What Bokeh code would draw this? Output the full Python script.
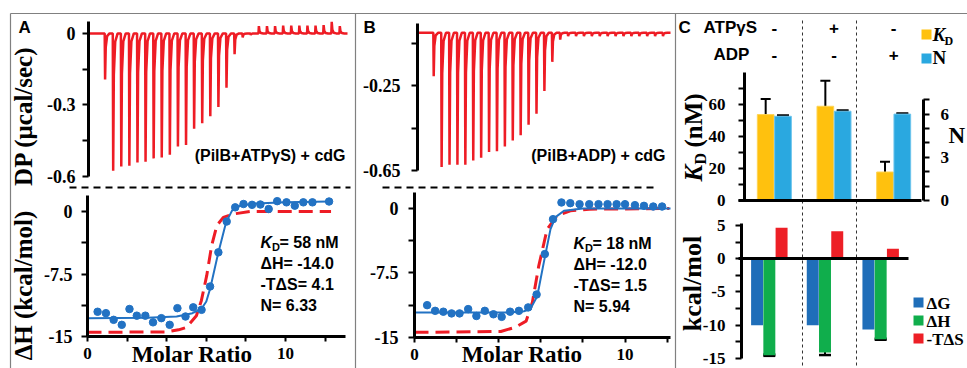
import math
from bokeh.plotting import figure
from bokeh.models import (Range1d, LinearAxis, FixedTicker, CustomJSTickFormatter, Label,
                          Whisker, TeeHead, ColumnDataSource, BoxAnnotation)
from bokeh.embed import file_html
from bokeh.resources import INLINE

W, H = 967, 368

# ---------------------------------------------------------------- data
injection_time = [2, 3, 4, 5, 6, 7, 8, 9, 10, 11, 12, 13, 14, 15, 16,
                  17, 18, 19, 20, 21, 22, 23, 24, 25, 26, 27, 28, 29, 30, 31]
dp_atpgs = [-0.193, -0.576, -0.558, -0.555, -0.541, -0.538, -0.524, -0.520,
            -0.509, -0.474, -0.468, -0.400, -0.377, -0.347, -0.309, -0.228,
            -0.087, -0.017, -0.006, 0.031, 0.031, 0.031, 0.033, 0.033, 0.033,
            0.033, 0.033, 0.035, 0.049, 0.031]
dp_adp = [-0.205, -0.634, -0.623, -0.623, -0.623, -0.603, -0.590, -0.563,
          -0.559, -0.537, -0.508, -0.484, -0.434, -0.382, -0.275, -0.137,
          -0.032, -0.016, -0.016, -0.016, -0.016, -0.016, -0.016, -0.016,
          -0.016, -0.016, -0.016, -0.016, -0.016, -0.016]

ratio_atpgs = [0.51, 0.93, 1.32, 1.73, 2.12, 2.49, 2.92, 3.31, 3.73, 4.15, 4.54, 4.95,
               5.34, 5.76, 6.19, 6.61, 7.03, 7.46, 7.88, 8.31, 8.73, 9.15, 9.58, 10.05,
               10.47, 10.9, 11.36, 12.2]
heat_atpgs = [-12.03, -12.2, -13.0, -13.6, -11.7, -12.5, -12.5, -13.3, -12.8, -13.6, -11.6,
              -12.6, -11.5, -11.8, -9.0, -4.9, -1.2, 0.5, 0.9, 0.8, 0.84, 0.3, 1.24, 1.1,
              0.7, 1.1, 1.1, 1.2]
fit_ratio_atpgs = [0, 3.0, 4.5, 5.3, 5.75, 6.0, 6.2, 6.6, 7.0, 7.3, 7.7, 8.5, 10.0, 12.2]
fit_heat_atpgs = [-12.8, -12.75, -12.6, -12.2, -11.7, -10.8, -9.2, -5.0, -1.3, 0.1, 0.7,
                  0.95, 1.1, 1.2]
ref_ratio_atpgs = [0, 4.0, 4.6, 5.0, 5.5, 5.75, 6.02, 6.27, 6.53, 6.86, 7.37, 8.2, 12.3]
ref_heat_atpgs = [-14.5, -14.45, -14.2, -13.9, -12.5, -10.7, -7.7, -4.1, -1.7, -0.7, -0.3,
                  0, 0]

ratio_adp = [0.6, 0.98, 1.37, 1.76, 2.14, 2.55, 2.94, 3.34, 3.75, 4.14, 4.54, 4.96, 5.40,
             5.80, 6.19, 6.58, 6.98, 7.40, 7.84, 8.3, 8.74, 9.17, 9.6, 10.0, 10.47, 10.9,
             11.34, 11.76]
heat_adp = [-11.24, -11.9, -12.0, -12.2, -12.2, -11.7, -12.5, -11.9, -12.3, -12.6, -12.0,
            -11.9, -11.5, -10.0, -5.3, -1.24, 0.7, 0.62, 0.5, 0.5, 0.5, 0.5, 0.5, 0.5,
            0.39, 0.31, 0.23, 0.23]
fit_ratio_adp = [0, 4.5, 5.2, 5.5, 5.83, 6.14, 6.46, 6.7, 7.1, 8.0, 12.16]
fit_heat_adp = [-12.1, -12.1, -11.95, -11.7, -10.2, -6.3, -2.4, -1.0, -0.27, 0, 0]
ref_ratio_adp = [0, 4.1, 4.8, 5.3, 5.6, 5.9, 6.3, 6.77, 7.4, 8.3, 12.1]
ref_heat_adp = [-14.4, -14.3, -13.8, -13.1, -10.9, -6.7, -2.4, -0.85, -0.27, -0.08, 0]

atpgs_sign = ["-", "+", "-"]
adp_sign = ["-", "-", "+"]
group_pos = [0, 1, 2]
kd_nM = [53.7, 58.9, 17.8]
kd_err = [9.7, 16.0, 6.4]
n_sites = [5.85, 6.2, 6.0]
n_err = [0.05, 0.05, 0.05]
dG = [-10.0, -10.0, -10.65]
dH = [-14.5, -14.1, -12.1]
dH_err = [0.1, 0.38, 0.08]
mTdS = [4.65, 4.15, 1.5]

# ---------------------------------------------------------------- style
RED = "#EE1C25"
BLUE = "#2272C3"
KD_COL = "#FFC10E"
N_COL = "#2AA8E0"
G_COL = "#1F6EB9"
H_COL = "#10AE4C"
S_COL = "#ED1F26"
GREY = "#808080"
SANS = "Liberation Sans"
SERIF = "Liberation Serif"
ROT = math.pi / 2
MID = 0.33  # offset from alphabetic baseline to the text middle, in em

# one canvas; default ranges are page pixels (y downwards), each panel gets its own ranges
p = figure(width=W, height=H, x_range=Range1d(0, W), y_range=Range1d(H, 0),
           x_axis_type=None, y_axis_type=None, output_backend="svg",
           toolbar_location=None, min_border=0, min_border_left=0, min_border_right=0,
           min_border_top=0, min_border_bottom=0, outline_line_color=None,
           background_fill_color="white", border_fill_color="white")
p.grid.visible = False

xr_extra, yr_extra = {}, {}


def panel(name, frame, xr, yr, extra_y=None):
    fx0, fy0, fx1, fy1 = frame
    kx = (xr[1] - xr[0]) / (fx1 - fx0)
    xr_extra[name] = Range1d(xr[0] - fx0 * kx, xr[0] + (W - fx0) * kx)
    ky = (yr[1] - yr[0]) / (fy1 - fy0)
    yr_extra[name] = Range1d(yr[0] + (fy1 - H) * ky, yr[0] + fy1 * ky)
    if extra_y:
        n2, yr2 = extra_y
        ky2 = (yr2[1] - yr2[0]) / (fy1 - fy0)
        yr_extra[n2] = Range1d(yr2[0] + (fy1 - H) * ky2, yr2[0] + fy1 * ky2)


def style_axis(ax, ticks, minor, size, standoff, out=6):
    ax.ticker = FixedTicker(ticks=ticks, minor_ticks=minor)
    ax.formatter = CustomJSTickFormatter(code="return tick.toString();")
    ax.axis_line_width = 3
    ax.axis_line_color = "black"
    ax.major_tick_line_width = 2
    ax.minor_tick_line_width = 2
    ax.major_tick_out = out
    ax.major_tick_in = 0
    ax.minor_tick_out = out
    ax.minor_tick_in = 0
    ax.major_label_text_font = SERIF
    ax.major_label_text_font_size = f"{size}px"
    ax.major_label_text_font_style = "bold"
    ax.major_label_text_color = "black"
    ax.major_label_standoff = standoff


def y_axis(name, xname, at, bounds, ticks, minor, size, standoff, side="left"):
    ax = LinearAxis(y_range_name=name, x_range_name=xname, fixed_location=at, bounds=bounds)
    style_axis(ax, ticks, minor, size, standoff)
    p.add_layout(ax, side)
    return ax


def x_axis(name, yname, at, bounds, ticks, minor, size, standoff, out=5):
    ax = LinearAxis(x_range_name=name, y_range_name=yname, fixed_location=at, bounds=bounds)
    style_axis(ax, ticks, minor, size, standoff, out=out)
    p.add_layout(ax, "below")
    return ax


def text(px, py, s, size, font=SANS, style="bold", align="left", angle=0.0,
         x_range_name="default"):
    # (px, py) is the start / centre of the alphabetic baseline
    if angle == 0.0:
        py = py - MID * size
    else:
        px = px - MID * size
    p.add_layout(Label(x=px, y=py, text=s, text_font=font, text_font_size=f"{size}px",
                       text_font_style=style, text_align=align, x_range_name=x_range_name,
                       text_baseline="middle", angle=angle, text_color="black"))


def seg(x0, y0, x1, y1, color, width, dash="solid"):
    p.segment(x0=[x0], y0=[y0], x1=[x1], y1=[y1], line_color=color,
              line_width=width, line_dash=dash)


def box(x0, y0, x1, y1, color):
    p.add_layout(BoxAnnotation(left=x0, right=x1, top=y0, bottom=y1, fill_color=color,
                               fill_alpha=1.0, line_color=None))


def dp_trace(times, peaks, t_end):
    xs, ys = [0.0], [0.0]
    for t, d in zip(times, peaks):
        xs += [t, t + 0.05, t + 0.13, t + 0.3, t + 0.6]
        ys += [0.0, d, 0.3 * d, 0.06 * d, 0.0]
    xs.append(t_end)
    ys.append(0.0)
    return xs, ys


panel("At", (88, 21, 347, 176), (0, 32), (-0.6, 0.05))
panel("Ab", (87, 195, 345, 336), (0, 13.03), (-15, 1.92))
panel("Bt", (417, 23, 670, 170), (0, 32), (-0.65, 0.044))
panel("Bb", (414, 192, 670, 337), (0, 12.16), (-15, 1.86))
panel("Ct", (744, 72, 923, 200), (-0.5, 2.5), (0, 80), extra_y=("CtN", (0, 8.89)))
panel("Cb", (741, 223, 908, 358), (-0.5, 2.5), (-15, 5.3))
p.extra_x_ranges = xr_extra
p.extra_y_ranges = yr_extra

# ---------------------------------------------------------------- frames / separators
seg(10, 13, W, 13, GREY, 1.2)
seg(10, 13, 10, H, GREY, 1.2)
seg(355, 13, 355, H, GREY, 1.2)
seg(675, 13, 675, H, GREY, 1.2)
seg(69, 187, 350, 187, "black", 2, "7 5")
seg(382, 187, 658, 187, "black", 2, "7 5")
seg(802, 20, 802, H, "#333333", 1, "3 3")
seg(856, 20, 856, H, "#333333", 1, "3 3")

# ---------------------------------------------------------------- panel A
xs, ys = dp_trace(injection_time, dp_atpgs, 32)
p.line(xs, ys, line_color=RED, line_width=2.5, x_range_name="At", y_range_name="At")
y_axis("At", "At", 0, (-0.6, 0.05), [0, -0.3, -0.6], [-0.15, -0.45], 18, 7)
text(18, 33, "A", 17)
text(31, 115.5, "DP (μcal/sec)", 25, SERIF, align="center", angle=ROT)
text(345, 160, "(PilB+ATPγS) + cdG", 16, align="right")

p.line(ref_ratio_atpgs, ref_heat_atpgs, line_color=RED, line_width=3, line_dash="14 7",
       x_range_name="Ab", y_range_name="Ab")
p.line(fit_ratio_atpgs, fit_heat_atpgs, line_color=BLUE, line_width=2,
       x_range_name="Ab", y_range_name="Ab")
p.scatter(ratio_atpgs, heat_atpgs, size=7.5, fill_color=BLUE, line_color=BLUE,
          x_range_name="Ab", y_range_name="Ab")
y_axis("Ab", "Ab", 0, (-15, 1.92), [0, -7.5, -15], [-3.75, -11.25], 18, 9)
x_axis("Ab", "Ab", -15, (0, 13.03), [0, 10], [2, 4, 6, 8, 12], 17, 6)
text(31, 285, "ΔH (kcal/mol)", 25, SERIF, align="center", angle=ROT)
text(260, 247, "K", 16, style="bold italic")
text(271.5, 250, "D", 11)
text(279, 247, "= 58 nM", 16)
text(260, 268, "ΔH= -14.0", 16)
text(260, 289, "-TΔS= 4.1", 16)
text(260, 310, "N= 6.33", 16)
text(191.5, 362, "Molar Ratio", 23, SERIF, align="center")

# ---------------------------------------------------------------- panel B
xs, ys = dp_trace(injection_time, dp_adp, 32)
p.line(xs, ys, line_color=RED, line_width=2.5, x_range_name="Bt", y_range_name="Bt")
y_axis("Bt", "Bt", 0, (-0.65, 0.044), [-0.25, -0.65], [-0.05, -0.45], 18, 11)
text(363, 33, "B", 17)
text(665, 160, "(PilB+ADP) + cdG", 16, align="right")

p.line(ref_ratio_adp, ref_heat_adp, line_color=RED, line_width=3, line_dash="14 7",
       x_range_name="Bb", y_range_name="Bb")
p.line(fit_ratio_adp, fit_heat_adp, line_color=BLUE, line_width=2,
       x_range_name="Bb", y_range_name="Bb")
p.scatter(ratio_adp, heat_adp, size=7.5, fill_color=BLUE, line_color=BLUE,
          x_range_name="Bb", y_range_name="Bb")
y_axis("Bb", "Bb", 0, (-15, 1.86), [0, -7.5, -15], [-3.75, -11.25], 18, 10)
x_axis("Bb", "Bb", -15, (0, 12.16), [0, 10], [2, 4, 6, 8, 12], 17, 6)
text(573, 248, "K", 16, style="bold italic")
text(584.5, 251, "D", 11)
text(592, 248, "= 18 nM", 16)
text(573, 269, "ΔH= -12.0", 16)
text(573, 290, "-TΔS= 1.5", 16)
text(573, 311, "N= 5.94", 16)
text(521.5, 362, "Molar Ratio", 23, SERIF, align="center")

# ---------------------------------------------------------------- panel C (top)
srcC = ColumnDataSource(dict(
    kd_x=[g - 0.145 for g in group_pos], n_x=[g + 0.145 for g in group_pos],
    kd=kd_nM, kd_lo=[k - e for k, e in zip(kd_nM, kd_err)],
    kd_hi=[k + e for k, e in zip(kd_nM, kd_err)],
    n=n_sites, n_lo=[n - e for n, e in zip(n_sites, n_err)],
    n_hi=[n + e for n, e in zip(n_sites, n_err)]))
p.vbar(x="kd_x", top="kd", bottom=0, width=0.28, source=srcC, fill_color=KD_COL,
       line_color="#FFD454", line_width=1, x_range_name="Ct", y_range_name="Ct")
p.vbar(x="n_x", top="n", bottom=0, width=0.28, source=srcC, fill_color=N_COL,
       line_color="#6CC4EC", line_width=1, x_range_name="Ct", y_range_name="CtN")
p.add_layout(Whisker(source=srcC, base="kd_x", lower="kd_lo", upper="kd_hi",
                     x_range_name="Ct", y_range_name="Ct",
                     line_width=2, line_color="black",
                     upper_head=TeeHead(size=10, line_width=2),
                     lower_head=TeeHead(size=10, line_width=2)))
p.add_layout(Whisker(source=srcC, base="n_x", lower="n_lo", upper="n_hi",
                     x_range_name="Ct", y_range_name="CtN",
                     line_width=2, line_color="black",
                     upper_head=TeeHead(size=12, line_width=2.5),
                     lower_head=TeeHead(size=12, line_width=2.5)))
y_axis("Ct", "Ct", -0.5, (0, 80), [0, 20, 40, 60], [10, 30, 50, 70], 17, 13)
y_axis("CtN", "Ct", 2.5, (0, 7), [0, 3, 6], [1, 2, 4, 5, 7], 17, 11, side="right")
x_axis("Ct", "Ct", 0, (-0.6, 2.47), [], [], 17, 0, out=0)

text(678, 33, "C", 17)
text(703, 33, "ATPγS", 17)
text(713, 60, "ADP", 17)
for gpos, s1, s2 in zip(group_pos, atpgs_sign, adp_sign):
    text(gpos, 33, s1, 17, align="center", x_range_name="Ct")
    text(gpos, 60, s2, 17, align="center", x_range_name="Ct")
box(921, 29, 931, 39, KD_COL)
box(921, 53, 931, 63, N_COL)
text(932, 40, "K", 19, SERIF, style="bold italic")
text(944, 44, "D", 12, SERIF)
text(932, 63, "N", 19, SERIF)
text(701, 181, "K", 25, SERIF, style="bold italic", angle=ROT)
text(705, 164, "D", 16, SERIF, angle=ROT)
text(701, 147, "(nM)", 25, SERIF, angle=ROT)
text(948, 143, "N", 23, SERIF)

# ---------------------------------------------------------------- panel C (bottom)
srcE = ColumnDataSource(dict(
    g_x=[g - 0.22 for g in group_pos], h_x=[g for g in group_pos],
    s_x=[g + 0.22 for g in group_pos], dG=dG, dH=dH, mTdS=mTdS,
    h_lo=[h - e for h, e in zip(dH, dH_err)], h_hi=[h + e for h, e in zip(dH, dH_err)]))
for col, key, c in (("g_x", "dG", G_COL), ("h_x", "dH", H_COL), ("s_x", "mTdS", S_COL)):
    p.vbar(x=col, top=key, bottom=0, width=0.215, source=srcE, fill_color=c,
           line_color=None, x_range_name="Cb", y_range_name="Cb")
p.add_layout(Whisker(source=srcE, base="h_x", lower="h_lo", upper="h_hi",
                     x_range_name="Cb", y_range_name="Cb",
                     line_width=2, line_color="black",
                     upper_head=TeeHead(size=12, line_width=2.5),
                     lower_head=TeeHead(size=12, line_width=2.5)))
y_axis("Cb", "Cb", -0.5, (-15, 5.3), [5, 0, -5, -10, -15], [2.5, -2.5, -7.5, -12.5], 17, 10)
x_axis("Cb", "Cb", 0, (-0.55, 2.5), [], [], 17, 0, out=0)
text(701, 283, "kcal/mol", 26, SERIF, align="center", angle=ROT)
box(913, 297, 923, 307, G_COL)
box(913, 315, 923, 325, H_COL)
box(913, 333, 923, 343, S_COL)
text(926, 309, "ΔG", 17, SERIF)
text(926, 327, "ΔH", 17, SERIF)
text(926, 345, "-TΔS", 17, SERIF)

open("out.html", "w").write(file_html(p, INLINE, "ITC"))
